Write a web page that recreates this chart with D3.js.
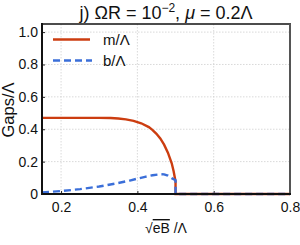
<!DOCTYPE html>
<html><head><meta charset="utf-8">
<script src="https://cdn.jsdelivr.net/npm/d3@7"></script>
<style>body{margin:0;background:#fff}svg{display:block;font-family:"Liberation Sans",Arial,sans-serif}</style>
</head><body><svg id="c" width="300" height="245"></svg>
<script>
const mX = [0.15,0.20,0.25,0.30,0.33,0.35,0.37,0.39,0.41,0.43,0.44,0.45,0.46,0.47,0.48,0.49,0.495,0.499,0.5,0.5,0.6,0.7,0.8];
const mY = [0.47,0.47,0.47,0.47,0.469,0.466,0.461,0.452,0.437,0.413,0.395,0.372,0.343,0.305,0.255,0.19,0.14,0.09,0.08,0,0,0,0];
const bX = [0.15,0.20,0.25,0.30,0.35,0.38,0.40,0.42,0.44,0.46,0.47,0.48,0.49,0.5,0.5,0.6,0.7,0.8];
const bY = [0.01,0.018,0.03,0.046,0.068,0.083,0.095,0.106,0.116,0.122,0.121,0.113,0.098,0.085,0,0,0,0];
const xTicks = [0.2,0.4,0.6,0.8];
const yTicks = [0,0.2,0.4,0.6,0.8,1.0];
const yTickLabels = ["0","0.2","0.4","0.6","0.8","1.0"];

const svg = d3.select("#c");
const L=42,R=290,T=24,B=194;
const x = d3.scaleLinear().domain([0.15,0.8]).range([L,R]);
const y = d3.scaleLinear().domain([0,1.05]).range([B,T]);
const red="#cc3d10", blue="#3b6fd9";

// grid
svg.append("g").selectAll("line").data(xTicks).join("line")
  .attr("x1",d=>x(d)).attr("x2",d=>x(d)).attr("y1",T).attr("y2",B)
  .attr("stroke","#cfcfcf").attr("stroke-width",0.8).attr("stroke-dasharray","1.5,1.5");
svg.append("g").selectAll("line").data(yTicks.slice(1)).join("line")
  .attr("x1",L).attr("x2",R).attr("y1",d=>y(d)).attr("y2",d=>y(d))
  .attr("stroke","#cfcfcf").attr("stroke-width",0.8).attr("stroke-dasharray","1.5,1.5");

// axes
const xa = svg.append("g").attr("transform",`translate(0,${B})`)
  .call(d3.axisBottom(x).tickValues(xTicks).tickFormat(d3.format(".1f")).tickSize(-3).tickPadding(8));
const ya = svg.append("g").attr("transform",`translate(${L},0)`)
  .call(d3.axisLeft(y).tickValues(yTicks).tickFormat((d,i)=>yTickLabels[i]).tickSize(-3).tickPadding(4));
[xa,ya].forEach(a=>{a.select(".domain").remove();
  a.selectAll("text").attr("font-size",14).attr("fill","#111").attr("font-family","Liberation Sans, Arial, sans-serif");
  a.selectAll("line").attr("stroke","#222");});

// data lines
const line = d3.line().x(d=>x(d[0])).y(d=>y(d[1]));
svg.append("path").datum(mX.map((v,i)=>[v,mY[i]])).attr("d",line)
  .attr("fill","none").attr("stroke",red).attr("stroke-width",2.4);
svg.append("path").datum(bX.map((v,i)=>[v,bY[i]])).attr("d",line)
  .attr("fill","none").attr("stroke",blue).attr("stroke-width",2.4).attr("stroke-dasharray","7,4");

// frame
svg.append("line").attr("x1",L).attr("x2",R+1).attr("y1",T).attr("y2",T).attr("stroke","#111").attr("stroke-width",1.5);
svg.append("line").attr("x1",R).attr("x2",R).attr("y1",T).attr("y2",B).attr("stroke","#555").attr("stroke-width",2);
svg.append("line").attr("x1",L).attr("x2",R+1).attr("y1",B).attr("y2",B).attr("stroke","#111").attr("stroke-width",2);
svg.append("line").attr("x1",L).attr("x2",L).attr("y1",T-1).attr("y2",B+1).attr("stroke","#111").attr("stroke-width",2);

// legend
svg.append("line").attr("x1",53).attr("x2",90).attr("y1",39.5).attr("y2",39.5).attr("stroke",red).attr("stroke-width",2.4);
svg.append("line").attr("x1",53).attr("x2",92).attr("y1",60.5).attr("y2",60.5).attr("stroke",blue).attr("stroke-width",2.4).attr("stroke-dasharray","7,4");
svg.append("text").attr("x",103).attr("y",45).attr("font-size",15).attr("fill","#111").text("m/Λ");
svg.append("text").attr("x",103).attr("y",66).attr("font-size",15).attr("fill","#111").text("b/Λ");

// title
const t = svg.append("text").attr("x",166).attr("y",19).attr("text-anchor","middle").attr("font-size",18).attr("fill","#111");
t.append("tspan").text("j) ΩR = 10");
t.append("tspan").attr("font-size",12).attr("dy",-7).text("−2");
t.append("tspan").attr("dy",7).text(", ");
t.append("tspan").attr("font-style","italic").text("μ");
t.append("tspan").text(" = 0.2Λ");

// axis labels
svg.append("text").attr("transform","translate(14,110) rotate(-90)").attr("text-anchor","middle")
  .attr("font-size",16.5).attr("fill","#111").text("Gaps/Λ");
const xl = svg.append("text").attr("x",166).attr("y",233).attr("text-anchor","middle").attr("font-size",14).attr("fill","#111");
xl.append("tspan").text("√");
xl.append("tspan").attr("text-decoration","overline").text("eB");
xl.append("tspan").text(" /Λ");
</script></body></html>
